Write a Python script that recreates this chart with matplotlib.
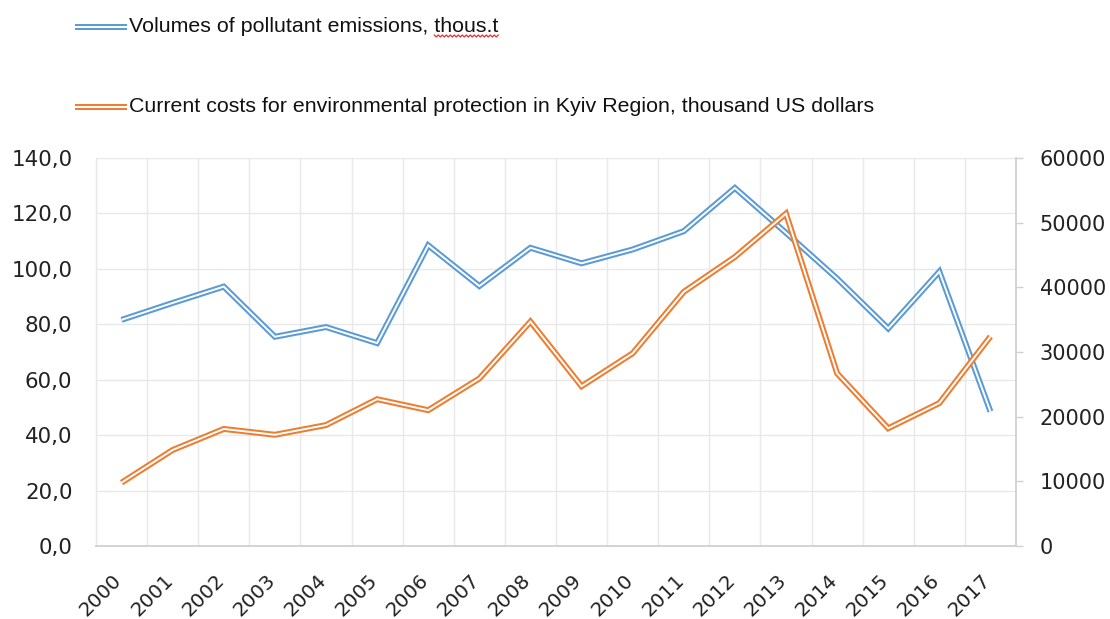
import matplotlib
matplotlib.use("Agg")
import matplotlib.pyplot as plt
import matplotlib.transforms as mtransforms
from matplotlib.lines import Line2D
from matplotlib.ticker import FuncFormatter
import numpy as np

# ---- data -------------------------------------------------------------
years = ["2000", "2001", "2002", "2003", "2004", "2005", "2006", "2007", "2008",
         "2009", "2010", "2011", "2012", "2013", "2014", "2015", "2016", "2017"]

# pollutant emissions, thousand tonnes (left axis)
emissions = [81.6, 87.7, 93.6, 75.5, 79.0, 73.2, 108.5, 93.8, 107.6,
             102.0, 107.0, 113.6, 129.2, 113.0, 96.5, 78.5, 99.0, 48.5]

# current environmental protection costs, thousand US dollars (right axis)
costs = [9800, 14850, 18100, 17200, 18700, 22700, 21000, 25900, 34700,
         24700, 29800, 39300, 44700, 51400, 26700, 18200, 22100, 32400]

emis_label = "Volumes of pollutant emissions, thous.t"
cost_label = "Current costs for environmental protection in Kyiv Region, thousand US dollars"

left_ticks = [0, 20, 40, 60, 80, 100, 120, 140]
right_ticks = [0, 10000, 20000, 30000, 40000, 50000, 60000]

# ---- styling ----------------------------------------------------------
BLUE = "#5B9BD5"
ORANGE = "#ED7D31"
GRID = "#e9e9e9"
AXIS = "#d0d0d0"
TXT = "#222222"
TICK_FONT = "DejaVu Sans"
LEG_FONT = "Liberation Sans"
OUTER_LW = 4.3
INNER_LW = 1.4

W, H = 1110, 619
fig = plt.figure(figsize=(W / 100, H / 100), dpi=100)
fig.patch.set_facecolor("white")

ax = fig.add_axes([96 / W, 73 / H, 920 / W, 388 / H])
ax2 = ax.twinx()

x = np.arange(len(years))


def double_line(axis, xs, ys, color, z):
    """Excel-style 'double' compound line: wide coloured stroke split by a white core."""
    axis.plot(xs, ys, color=color, lw=OUTER_LW, solid_joinstyle="miter",
              solid_capstyle="butt", zorder=z)
    axis.plot(xs, ys, color="white", lw=INNER_LW, solid_joinstyle="miter",
              solid_capstyle="butt", zorder=z + 0.1)


double_line(ax, x, emissions, BLUE, 3)
double_line(ax2, x, costs, ORANGE, 3)

# axes ranges
ax.set_xlim(-0.5, len(years) - 0.5)
ax.set_ylim(0, 140)
ax2.set_ylim(0, 60000)

# x axis: category labels at centres, grid on category boundaries
ax.set_xticks(x)
ax.set_xticklabels(years, rotation=45, ha="right")
ax.set_xticks(np.arange(-0.5, len(years), 1.0), minor=True)
ax.tick_params(axis="x", which="both", length=0, pad=18.0,
               labelsize=14.3, labelcolor=TXT)
shift = mtransforms.ScaledTranslation(4 / 100, 0, fig.dpi_scale_trans)
for lbl in ax.get_xticklabels():
    lbl.set_fontfamily(TICK_FONT)
    lbl.set_transform(lbl.get_transform() + shift)

# left axis
ax.set_yticks(left_ticks)
ax.yaxis.set_major_formatter(FuncFormatter(lambda v, _: f"{v:.1f}".replace(".", ",")))
ax.tick_params(axis="y", length=0, pad=17, labelsize=15.4, labelcolor=TXT)
for lbl in ax.get_yticklabels():
    lbl.set_fontfamily(TICK_FONT)

# right axis
ax2.set_yticks(right_ticks)
ax2.yaxis.set_major_formatter(FuncFormatter(lambda v, _: f"{int(v)}"))
ax2.tick_params(axis="y", length=5, width=1.0, color=AXIS, direction="out",
                pad=12, labelsize=15.0, labelcolor=TXT)
for lbl in ax2.get_yticklabels():
    lbl.set_fontfamily(TICK_FONT)

# grid
ax.grid(which="minor", axis="x", color=GRID, lw=1.0)
ax.grid(which="major", axis="y", color=GRID, lw=1.0)
ax.grid(which="major", axis="x", visible=False)
ax.set_axisbelow(True)

# spines
for s in ("top", "right"):
    ax.spines[s].set_visible(False)
ax.spines["left"].set_color(GRID)
ax.spines["left"].set_linewidth(1.0)
ax.spines["bottom"].set_color(AXIS)
ax.spines["bottom"].set_linewidth(1.3)
for s in ("top", "left", "bottom"):
    ax2.spines[s].set_visible(False)
ax2.spines["right"].set_color(AXIS)
ax2.spines["right"].set_linewidth(1.3)

# ---- legend (stacked entries above the plot) --------------------------
def legend_entry(y_px, color, label):
    yf = 1 - y_px / H
    fig.add_artist(Line2D([75 / W, 127 / W], [yf, yf], transform=fig.transFigure,
                          color=color, lw=OUTER_LW, solid_capstyle="butt"))
    fig.add_artist(Line2D([75 / W, 127 / W], [yf, yf], transform=fig.transFigure,
                          color="white", lw=INNER_LW, solid_capstyle="butt"))
    return fig.text(129 / W, yf, label, fontsize=15.4, family=LEG_FONT,
                    color="#111111", va="center", ha="left")


t1 = legend_entry(27, BLUE, emis_label)
legend_entry(107, ORANGE, cost_label)

# red spell-check squiggle under the unit abbreviation
renderer = fig.canvas.get_renderer()
full_bb = t1.get_window_extent(renderer)
probe = fig.text(129 / W, 1 - 27 / H, emis_label[: emis_label.index("thous")],
                 fontsize=15.4, family=LEG_FONT, va="center", ha="left")
start_px = probe.get_window_extent(renderer).x1
probe.remove()
end_px = full_bb.x1
sx = np.arange(start_px, end_px + 0.1, 2.0)
sy = (H - 36) + np.where(np.arange(len(sx)) % 2 == 0, 1.0, -1.0)
fig.add_artist(Line2D(sx / W, sy / H, transform=fig.transFigure,
                      color="#e0302a", lw=0.9))

fig.savefig("out.png", dpi=100, facecolor="white")
